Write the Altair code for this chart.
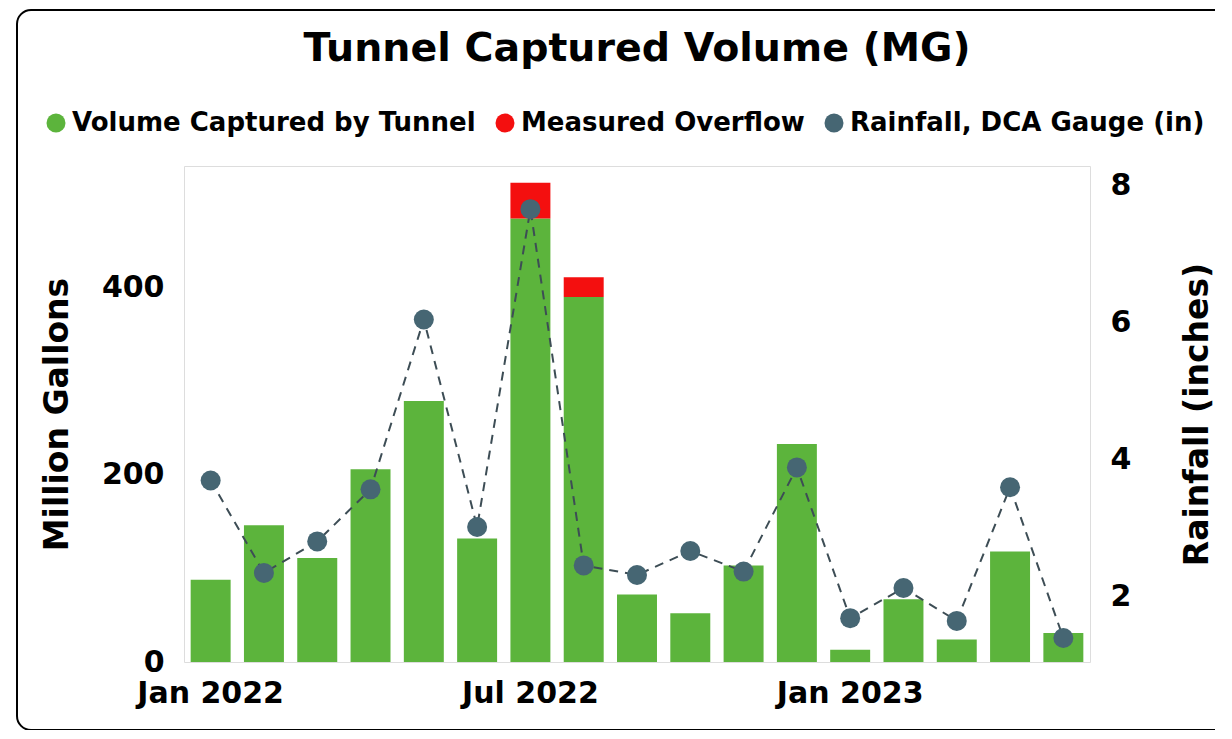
import altair as alt
import pandas as pd

months = ["Jan 2022", "Feb 2022", "Mar 2022", "Apr 2022", "May 2022", "Jun 2022",
          "Jul 2022", "Aug 2022", "Sep 2022", "Oct 2022", "Nov 2022", "Dec 2022",
          "Jan 2023", "Feb 2023", "Mar 2023", "Apr 2023", "May 2023"]
captured = [88, 146, 111, 206, 279, 132, 474, 390, 72, 52, 103, 233, 13, 67, 24, 118, 31]
overflow = [0, 0, 0, 0, 0, 0, 38, 21, 0, 0, 0, 0, 0, 0, 0, 0, 0]
rainfall = [3.69, 2.34, 2.80, 3.56, 6.04, 3.01, 7.65, 2.45, 2.31, 2.66, 2.36, 3.88,
            1.68, 2.12, 1.64, 3.59, 1.39]
x_labels = ["Jan 2022", "Jul 2022", "Jan 2023"]

S_CAP = "Volume Captured by Tunnel"
S_OVF = "Measured Overflow"
S_RAIN = "Rainfall, DCA Gauge (in)"
series_names = [S_CAP, S_OVF, S_RAIN]
series_colors = ["#5cb43c", "#f40f0f", "#466673"]

FONT = "DejaVu Sans"

bars_df = pd.DataFrame(
    [{"month": m, "series": S_CAP, "value": c, "ord": 0} for m, c in zip(months, captured)]
    + [{"month": m, "series": S_OVF, "value": o, "ord": 1} for m, o in zip(months, overflow)]
)
rain_df = pd.DataFrame({"month": months, "rain": rainfall, "series": S_RAIN})

xenc = alt.X("month:N", sort=months, title=None,
             scale=alt.Scale(paddingInner=0.25, paddingOuter=0.125),
             axis=alt.Axis(values=x_labels, labelAngle=0, ticks=False, domain=False,
                           labelPadding=16, labelFontSize=30, labelFont=FONT,
                           labelFontWeight="bold", labelColor="black"))

color = alt.Color("series:N", scale=alt.Scale(domain=series_names, range=series_colors),
                  legend=alt.Legend(title=None, orient="none", legendX=-141, legendY=-56,
                                    direction="horizontal", columns=3, symbolType="circle",
                                    symbolSize=360, symbolOpacity=1, labelFontSize=26,
                                    labelFont=FONT, labelFontWeight="bold",
                                    labelColor="black", columnPadding=16, labelOffset=3,
                                    labelLimit=600))

bars = alt.Chart(bars_df).mark_bar().encode(
    x=xenc,
    y=alt.Y("value:Q", stack="zero", title="Million Gallons",
            scale=alt.Scale(domain=[0, 530], nice=False),
            axis=alt.Axis(values=[0, 200, 400], ticks=False, domain=False, grid=False,
                          labelPadding=20, labelFontSize=30, labelFont=FONT,
                          labelFontWeight="bold", labelColor="black",
                          titleFontSize=33, titleFont=FONT, titleFontWeight="bold",
                          titleColor="black", titlePadding=27)),
    color=color,
    order=alt.Order("ord:Q"),
)

ry = alt.Y("rain:Q", title="Rainfall (inches)",
           scale=alt.Scale(domain=[1.04, 8.28], nice=False, zero=False),
           axis=alt.Axis(orient="right", values=[2, 4, 6, 8], ticks=False, domain=False,
                         grid=False, labelPadding=20, labelFontSize=30, labelFont=FONT,
                         labelFontWeight="bold", labelColor="black",
                         titleFontSize=33, titleFont=FONT, titleFontWeight="bold",
                         titleColor="black", titleAngle=270, titlePadding=84))

line = alt.Chart(rain_df).mark_line(color="#3d4d55", strokeWidth=2, strokeDash=[9, 7]).encode(
    x=alt.X("month:N", sort=months), y=ry)
pts = alt.Chart(rain_df).mark_circle(size=400, opacity=1).encode(
    x=alt.X("month:N", sort=months), y=ry, color=color)

# decorative frame (open on the right, like the cropped original)
frame_df = pd.DataFrame({"k": [0]})
L, T, B, R, RAD = -167, -156, 564, 1031, 14
top_rule = alt.Chart(frame_df).mark_rule(color="black", strokeWidth=2).encode(
    x=alt.value(L + RAD), x2=alt.value(R), y=alt.value(T))
bot_rule = alt.Chart(frame_df).mark_rule(color="black", strokeWidth=2).encode(
    x=alt.value(L + RAD), x2=alt.value(R), y=alt.value(B))
left_rule = alt.Chart(frame_df).mark_rule(color="black", strokeWidth=2).encode(
    x=alt.value(L), y=alt.value(T + RAD), y2=alt.value(B - RAD))
corner_tl = alt.Chart(frame_df).mark_arc(color="black", radius=RAD + 1, radius2=RAD - 1).encode(
    x=alt.value(L + RAD), y=alt.value(T + RAD), theta=alt.value(4.712), theta2=alt.value(6.2832))
corner_bl = alt.Chart(frame_df).mark_arc(color="black", radius=RAD + 1, radius2=RAD - 1).encode(
    x=alt.value(L + RAD), y=alt.value(B - RAD), theta=alt.value(3.1416), theta2=alt.value(4.7124))

rain_layer = alt.layer(line, pts)
chart = alt.layer(bars, rain_layer, top_rule, bot_rule, left_rule, corner_tl, corner_bl
                  ).resolve_scale(y="independent").properties(
    width=906, height=496,
    autosize=alt.AutoSizeParams(type="none"),
    padding={"left": 176, "top": 158, "right": 134, "bottom": 68},
    title=alt.TitleParams("Tunnel Captured Volume (MG)", font=FONT, fontSize=39.5,
                          fontWeight="bold", color="black", anchor="middle", offset=0,
                          dy=60),
).configure_view(stroke=None).configure(background="white")

chart.save("out.html", embed_options={"renderer": "svg", "actions": False})
